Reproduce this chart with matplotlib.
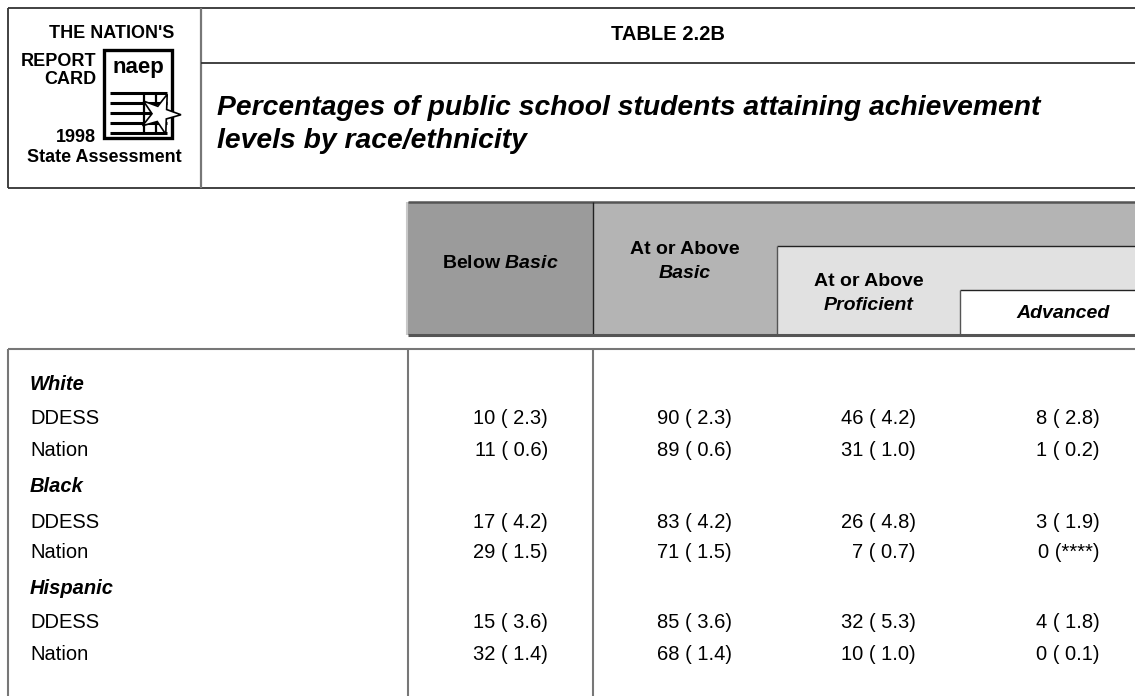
import matplotlib
matplotlib.use("Agg")
import matplotlib.pyplot as plt
from matplotlib.patches import Rectangle, Polygon
import numpy as np

plt.rcParams['font.family'] = ['Liberation Sans', 'DejaVu Sans']
plt.rcParams['mathtext.fontset'] = 'custom'
plt.rcParams['mathtext.it'] = 'Liberation Sans:italic:bold'
plt.rcParams['mathtext.rm'] = 'Liberation Sans:bold'

# ---------------- data ----------------
title = "TABLE 2.2B"
subtitle = ["Percentages of public school students attaining achievement",
            "levels by race/ethnicity"]
groups = ["White", "Black", "Hispanic"]
row_labels = ["DDESS", "Nation"]
below_basic = [10, 11, 17, 29, 15, 32]
below_basic_se = ["2.3", "0.6", "4.2", "1.5", "3.6", "1.4"]
at_basic = [90, 89, 83, 71, 85, 68]
at_basic_se = ["2.3", "0.6", "4.2", "1.5", "3.6", "1.4"]
at_proficient = [46, 31, 26, 7, 32, 10]
at_proficient_se = ["4.2", "1.0", "4.8", "0.7", "5.3", "1.0"]
advanced = [8, 1, 3, 0, 4, 0]
advanced_se = ["2.8", "0.2", "1.9", "****", "1.8", "0.1"]

W, H = 1135, 696
fig = plt.figure(figsize=(W / 100, H / 100), dpi=100)
ax = fig.add_axes([0, 0, 1, 1])
ax.set_xlim(0, W)
ax.set_ylim(H, 0)
ax.axis('off')

dark = '#333333'
mid = '#777777'

def hline(y, x0, x1, c=dark, lw=1.3):
    ax.plot([x0, x1], [y, y], color=c, lw=lw, solid_capstyle='butt')

def vline(x, y0, y1, c=dark, lw=1.3):
    ax.plot([x, x], [y0, y1], color=c, lw=lw, solid_capstyle='butt')

# ---------------- title block ----------------
hline(8, 8, W + 5)
hline(188, 8, W + 5)
vline(8, 8, 188)
vline(201, 8, 188, c=mid, lw=1.6)
hline(63, 201, W + 5)
ax.text(668, 34, title, ha='center', va='center', fontsize=14.5, fontweight='bold')
ax.text(217, 108, subtitle[0], ha='left', va='center', fontsize=20.3,
        fontweight='bold', style='italic')
ax.text(217, 141, subtitle[1], ha='left', va='center', fontsize=20.3,
        fontweight='bold', style='italic')

# ---------------- logo ----------------
lfs = 13
ax.text(174, 34, "THE NATION'S", ha='right', va='center', fontsize=lfs,
        fontweight='bold')
ax.text(96, 62, "REPORT", ha='right', va='center', fontsize=lfs,
        fontweight='bold')
ax.text(96, 79, "CARD", ha='right', va='center', fontsize=lfs,
        fontweight='bold')
ax.text(96, 138, "1998", ha='right', va='center', fontsize=lfs,
        fontweight='bold')
ax.text(104, 158, "State Assessment", ha='center', va='center', fontsize=lfs,
        fontweight='bold')
ax.add_patch(Rectangle((104, 50), 68, 88, fill=False, ec='black', lw=2.4))
ax.text(138, 67, "naep", ha='center', va='center', fontsize=16,
        fontweight='bold')
for yy in [93, 103, 113, 123, 133]:
    hline(yy, 110, 167, c='black', lw=2.2)
for xx in [144, 156]:
    vline(xx, 93, 133, c='black', lw=1.6)
# star
cx, cy = 160, 114
ang = np.linspace(0, 2 * np.pi, 11)[:-1] + 0.35
rad = np.array([21, 8] * 5)
pts = np.column_stack([cx + rad * np.sin(ang), cy - rad * np.cos(ang)])
ax.add_patch(Polygon(pts, closed=True, fc='white', ec='black', lw=1.2, zorder=5))

# ---------------- table header ----------------
top, strip_b, adv_t, bot = 202, 246, 290, 335
c1, c2, c3, c4, c5 = 408, 593, 777, 960, W + 5
ax.add_patch(Rectangle((c1, top), c2 - c1, bot - top, fc='#9b9b9b', ec='none'))
ax.add_patch(Rectangle((c2, top), c5 - c2, bot - top, fc='#b4b4b4', ec='none'))
ax.add_patch(Rectangle((c3, strip_b), c5 - c3, bot - strip_b, fc='#e1e1e1', ec='none'))
ax.add_patch(Rectangle((c4, adv_t), c5 - c4, bot - adv_t, fc='white', ec='none'))
hline(top, c1, c5, c='#555555', lw=1.8)
vline(c1 - 1, top, bot, c='#c8c8c8', lw=1.5)
vline(c2, top, bot, c='#222222', lw=1.0)
hline(strip_b, c3, c5, c='#222222', lw=1.0)
vline(c3, strip_b, bot, c='#555555', lw=1.0)
hline(adv_t, c4, c5, c='#222222', lw=1.0)
vline(c4, adv_t, bot, c='#555555', lw=1.0)
hline(bot, c1, c5, c='#555555', lw=2.2)

hfs = 14
ax.text((c1 + c2) / 2, 263, r"Below $\mathit{Basic}$", ha='center', va='center',
        fontsize=hfs, fontweight='bold')
ax.text((c2 + c3) / 2, 249, "At or Above", ha='center', va='center',
        fontsize=hfs, fontweight='bold')
ax.text((c2 + c3) / 2, 273, "Basic", ha='center', va='center',
        fontsize=hfs, fontweight='bold', style='italic')
ax.text((c3 + c4) / 2, 281, "At or Above", ha='center', va='center',
        fontsize=hfs, fontweight='bold')
ax.text((c3 + c4) / 2, 306, "Proficient", ha='center', va='center',
        fontsize=hfs, fontweight='bold', style='italic')
ax.text(1063, 314, "Advanced", ha='center', va='center',
        fontsize=hfs, fontweight='bold', style='italic')

# ---------------- table body ----------------
body_top = 349
hline(body_top, 8, c5, c=mid, lw=1.5)
vline(8, body_top, H + 5, c=mid, lw=1.5)
vline(c1, body_top, H + 5, c=mid, lw=1.5)
vline(c2, body_top, H + 5, c=mid, lw=1.5)

bfs = 14.5
group_y = [384, 487, 588]
row_gap = [35, 66]
right_edges = [548, 732, 916, 1100]
cols = [(below_basic, below_basic_se), (at_basic, at_basic_se),
        (at_proficient, at_proficient_se), (advanced, advanced_se)]

for gi, g in enumerate(groups):
    gy = group_y[gi]
    ax.text(30, gy, g, ha='left', va='center', fontsize=bfs,
            fontweight='bold', style='italic')
    for ri, r in enumerate(row_labels):
        ry = gy + row_gap[ri]
        ax.text(30, ry, r, ha='left', va='center', fontsize=bfs)
        idx = gi * 2 + ri
        for ci, (vals, ses) in enumerate(cols):
            se = ses[idx]
            s = f"{vals[idx]} ({se})" if se.startswith('*') else f"{vals[idx]} ( {se})"
            ax.text(right_edges[ci], ry, s, ha='right', va='center', fontsize=bfs)

fig.savefig("out.png", dpi=100)
